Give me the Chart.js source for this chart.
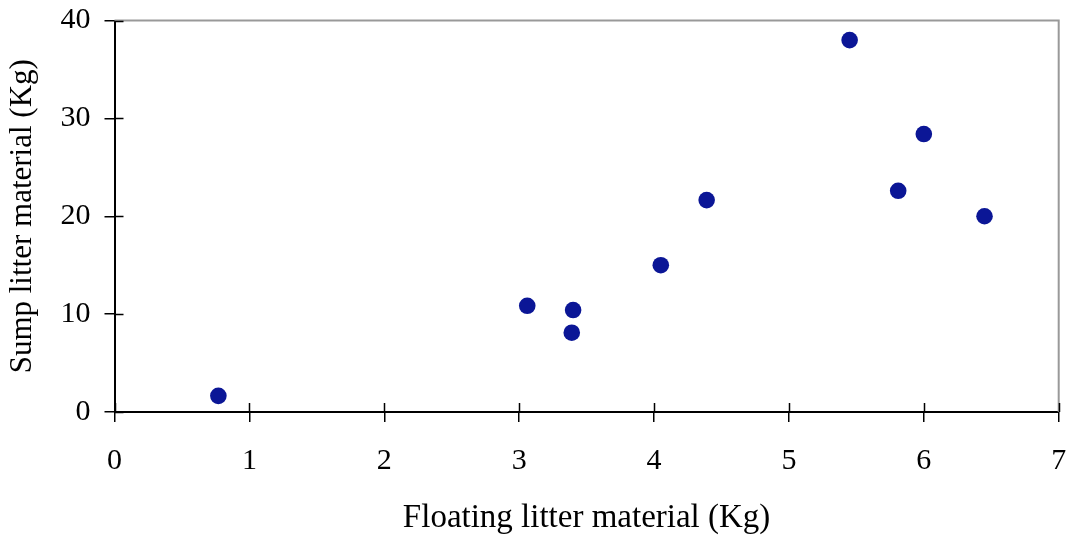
<!DOCTYPE html>
<html>
<head>
<meta charset="utf-8">
<script src="https://cdn.jsdelivr.net/npm/chart.js@4/dist/chart.umd.min.js"></script>
<style>
  html, body { margin: 0; padding: 0; background: #fff; }
  #wrap { width: 1067px; height: 536px; }
</style>
</head>
<body>
<div id="wrap"><canvas id="c" width="1067" height="536"></canvas></div>
<script>
// Floating vs. sump litter material, one point per sample
const floatingKg = [0.77, 3.06, 3.40, 3.39, 4.05, 4.39, 5.45, 6.00, 5.81, 6.45];
const sumpKg     = [1.65, 10.85, 10.42, 8.10, 15.0, 21.65, 38.0, 28.4, 22.6, 20.0];
const xTicks = [0, 1, 2, 3, 4, 5, 6, 7];
const yTicks = [0, 10, 20, 30, 40];

const points = floatingKg.map((x, i) => ({ x: x, y: sumpKg[i] }));

const TICK = 9;

// gray top/right frame, plus the inner half of the cross ticks
const frame = {
  id: 'frame',
  afterDraw(chart) {
    const a = chart.chartArea, ctx = chart.ctx;
    const xs = chart.scales.x, ys = chart.scales.y;
    ctx.save();
    ctx.strokeStyle = '#999999';
    ctx.lineWidth = 2;
    ctx.beginPath();
    ctx.moveTo(a.left, a.top);
    ctx.lineTo(a.right, a.top);
    ctx.lineTo(a.right, a.bottom);
    ctx.stroke();

    ctx.strokeStyle = '#000';
    ctx.lineWidth = 1.5;
    ctx.beginPath();
    xTicks.forEach(v => {
      const px = Math.round(xs.getPixelForValue(v)) + 0.5;
      ctx.moveTo(px, a.bottom);
      ctx.lineTo(px, a.bottom - TICK);
    });
    yTicks.forEach(v => {
      const py = Math.round(ys.getPixelForValue(v)) + 0.5;
      ctx.moveTo(a.left, py);
      ctx.lineTo(a.left + TICK, py);
    });
    ctx.stroke();
    ctx.restore();
  }
};

const serif = '"Liberation Serif", "Times New Roman", serif';
const tickFont = { family: serif, size: 30 };

new Chart(document.getElementById('c'), {
  type: 'scatter',
  data: {
    datasets: [{
      data: points,
      backgroundColor: '#0b1696',
      borderColor: '#0b1696',
      pointRadius: 8.3,
      pointHoverRadius: 8.3,
      borderWidth: 0
    }]
  },
  options: {
    responsive: false,
    animation: false,
    layout: { padding: { left: 0, right: 7.5, top: 20.5, bottom: 0 } },
    plugins: { legend: { display: false }, tooltip: { enabled: false } },
    scales: {
      x: {
        type: 'linear',
        min: 0, max: 7,
        afterBuildTicks(s) { s.ticks = xTicks.map(v => ({ value: v })); },
        afterFit(s) { s.height = 124; s.paddingLeft = 0; s.paddingRight = 0; },
        grid: { drawOnChartArea: false, color: '#000', tickLength: TICK + 1, lineWidth: 1.5 },
        border: { color: '#000', width: 2 },
        ticks: { color: '#000', font: tickFont, padding: 21, maxRotation: 0 },
        title: { display: true, text: 'Floating litter material (Kg)', color: '#000',
                 font: { family: serif, size: 33, lineHeight: 1 }, padding: { top: 0, bottom: 1.5 } }
      },
      y: {
        type: 'linear',
        min: 0, max: 40,
        afterBuildTicks(s) { s.ticks = yTicks.map(v => ({ value: v })); },
        afterFit(s) { s.width = 114.5; s.paddingTop = 0; s.paddingBottom = 0; },
        grid: { drawOnChartArea: false, color: '#000', tickLength: TICK + 1, lineWidth: 1.5 },
        border: { color: '#000', width: 2 },
        ticks: { color: '#000', font: tickFont, padding: 14 },
        title: { display: true, text: 'Sump litter material (Kg)', color: '#000',
                 font: { family: serif, size: 31, lineHeight: 1 }, padding: { top: 7, bottom: 0 } }
      }
    }
  },
  plugins: [frame]
});
</script>
</body>
</html>
